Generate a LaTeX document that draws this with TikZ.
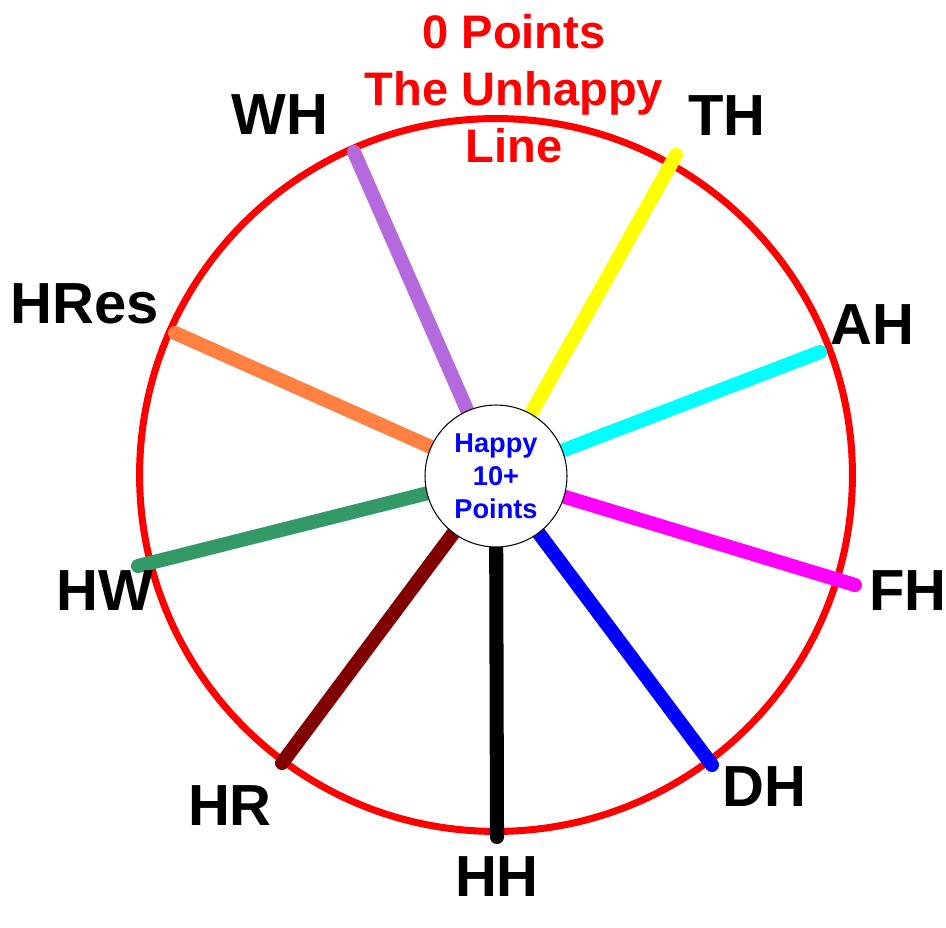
\documentclass[tikz,border=0pt]{standalone}
\usepackage{fontspec}
\setmainfont{Liberation Sans}
\definecolor{Cwh}{HTML}{B469DC}
\definecolor{Cth}{HTML}{FFFF00}
\definecolor{Cah}{HTML}{00FFFF}
\definecolor{Cfh}{HTML}{FF00FF}
\definecolor{Cdh}{HTML}{0000FF}
\definecolor{Chh}{HTML}{000000}
\definecolor{Chr}{HTML}{800000}
\definecolor{Chw}{HTML}{339966}
\definecolor{Chres}{HTML}{FF8040}
\definecolor{Cline}{HTML}{FF0000}

\begin{document}
\begin{tikzpicture}[x=0.02cm, y=-0.02cm,
	spoke/.style={line width=8pt, line cap=round},
	lbl/.style={font=\fontsize{33}{39}\selectfont\bfseries, inner sep=0pt},
	hub/.style={circle, draw=black, line width=0.6pt, fill=white,
		minimum size=2.84cm, inner sep=0pt, align=center, text=Cdh,
		font=\fontsize{15.5}{18.8}\selectfont\bfseries}]
		
		\useasboundingbox (0,0) rectangle (946,928);
		
		%% outer ring — the unhappy line
		\draw[Cline, line width=4pt] (496,475) circle[radius=7.13cm];
		
		%% hub and spoke ends
		\coordinate (c)    at (496,476);
		\coordinate (wh)   at (354,152);
		\coordinate (th)   at (676,155);
		\coordinate (ah)   at (820,352);
		\coordinate (fh)   at (855,585);
		\coordinate (dh)   at (712,765);
		\coordinate (hh)   at (497,837);
		\coordinate (hr)   at (282,763);
		\coordinate (hw)   at (138,566);
		\coordinate (hres) at (175,333);
		
		%% ── spokes ────────────────────────────────────────────────────────────
		\draw[spoke, Cwh]   (c) -- (wh);
		\draw[spoke, Cth]   (c) -- (th);
		\draw[spoke, Cah]   (c) -- (ah);
		\draw[spoke, Cfh]   (c) -- (fh);
		\draw[spoke, Cdh]   (c) -- (dh);
		\draw[spoke, Chh]   (c) -- (hh);
		\draw[spoke, Chr]   (c) -- (hr);
		\draw[spoke, Chw]   (c) -- (hw);
		\draw[spoke, Chres] (c) -- (hres);
		
		%% happy centre, drawn over the spokes
		\node[hub] (hub) at (c) {Happy\\10+\\Points};
		
		%% ── labels ────────────────────────────────────────────────────────────
		\node[lbl] (wh-l)   at (280,115) {WH};
		\node[lbl] (th-l)   at (727,116) {TH};
		\node[lbl] (ah-l)   at (872,325) {AH};
		\node[lbl] (fh-l)   at (908,591) {FH};
		\node[lbl] (dh-l)   at (764,787) {DH};
		\node[lbl] (hh-l)   at (497,877) {HH};
		\node[lbl] (hr-l)   at (230,806) {HR};
		\node[lbl] (hw-l)   at (105,591) {HW};
		\node[lbl] (hres-l) at (85,304)  {HRes};
		
		%% title over the ring
		\node[font=\fontsize{26.8}{32.4}\selectfont\bfseries, Cline,
		align=center, anchor=north, inner sep=0pt]
		(unhappy) at (514,14) {0 Points\\The Unhappy\\Line};
		
	\end{tikzpicture}
\end{document}
